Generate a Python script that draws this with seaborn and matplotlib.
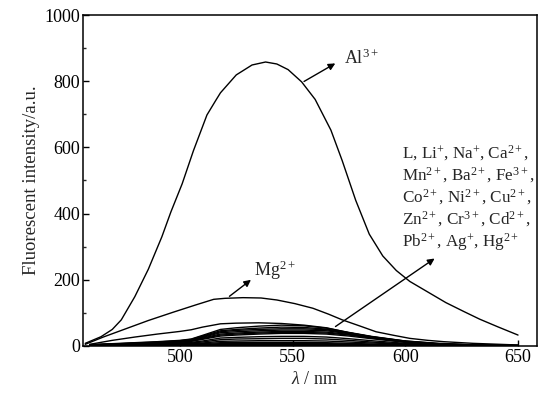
import numpy as np
import pandas as pd
import matplotlib
matplotlib.use('Agg')
import matplotlib.pyplot as plt
from matplotlib.ticker import MultipleLocator
import seaborn as sns

# wavelength grids (nm)
wl_al = [458, 465, 470, 474, 480, 486, 492, 496, 501, 506, 512, 516, 518, 525, 532,
         538, 543, 548, 554, 560, 567, 572, 578, 584, 590, 596, 602, 611, 618, 626,
         633, 641, 650]
al = [8, 28, 50, 79, 149, 232, 330, 405, 490, 590, 698, 743, 765, 819, 849,
      858, 852, 835, 798, 745, 652, 560, 440, 338, 272, 228, 195, 159, 131, 104,
      81, 58, 33]

wl_mg = [458, 466, 476, 486, 497, 507, 515, 520, 528, 536, 543, 551, 559, 566, 572,
         580, 587, 595, 602, 610, 617, 630, 650]
mg = [5, 27, 52, 77, 102, 124, 141, 144, 146, 145, 139, 128, 114, 96, 79,
      60, 43, 32, 23, 17, 13, 8, 3]

wl = [460, 470, 480, 490, 500, 505, 510, 518, 525, 535, 545, 555, 565, 575, 585, 600, 615, 630, 650]
others = {
    'L':    [5, 17, 27, 36, 44, 49, 57, 67, 69, 70, 68, 63, 55, 40, 28, 15, 8, 4, 2],
    'Li+':  [4, 7, 10, 13, 17, 21, 32, 50, 55, 60, 63, 61, 54, 41, 29, 15, 7, 3, 1],
    'Na+':  [4, 6, 9, 12, 16, 20, 30, 46, 50, 54, 57, 56, 51, 40, 28, 14, 6, 3, 1],
    'Ca2+': [3, 6, 8, 11, 15, 18, 28, 43, 47, 50, 52, 52, 49, 38, 27, 13, 6, 3, 1],
    'Mn2+': [3, 5, 8, 10, 14, 17, 26, 40, 43, 46, 48, 48, 46, 37, 26, 13, 6, 2, 1],
    'Ba2+': [3, 5, 7, 10, 13, 16, 24, 36, 39, 42, 44, 44, 42, 35, 25, 12, 5, 2, 1],
    'Fe3+': [3, 5, 7, 9, 12, 15, 22, 33, 36, 39, 41, 41, 39, 33, 24, 12, 5, 2, 1],
    'Co2+': [2, 4, 6, 8, 11, 14, 20, 30, 33, 36, 38, 38, 36, 30, 22, 11, 5, 2, 1],
    'Ni2+': [2, 4, 5, 7, 9, 11, 15, 24, 26, 28, 29, 29, 27, 22, 16, 8, 4, 2, 1],
    'Cu2+': [2, 3, 4, 6, 7, 9, 12, 19, 21, 22, 23, 23, 21, 17, 12, 6, 3, 1, 1],
    'Zn2+': [2, 3, 4, 5, 6, 7, 9, 14, 15, 16, 16, 16, 15, 12, 9, 5, 2, 1, 0],
    'Cr3+': [1, 2, 3, 4, 5, 6, 7, 10, 11, 11, 11, 11, 10, 8, 6, 3, 2, 1, 0],
    'Cd2+': [1, 2, 2, 3, 4, 4, 5, 7, 7, 8, 8, 8, 7, 6, 4, 2, 1, 1, 0],
    'Pb2+': [1, 1, 2, 2, 3, 3, 3, 5, 5, 5, 5, 5, 5, 4, 3, 2, 1, 0, 0],
    'Ag+':  [1, 1, 1, 1, 2, 2, 2, 3, 3, 3, 3, 3, 3, 2, 2, 1, 1, 0, 0],
    'Hg2+': [0, 1, 1, 1, 1, 1, 1, 2, 2, 2, 2, 2, 2, 1, 1, 1, 0, 0, 0],
}

# long table for seaborn
rows = []
for w, v in zip(wl_al, al):
    rows.append(('Al3+', w, v))
for w, v in zip(wl_mg, mg):
    rows.append(('Mg2+', w, v))
for ion, vals in others.items():
    for w, v in zip(wl, vals):
        rows.append((ion, w, v))
df = pd.DataFrame(rows, columns=['ion', 'wl', 'intensity'])

sns.set_style('ticks')
plt.rcParams['font.family'] = ['Liberation Serif', 'DejaVu Serif']
plt.rcParams['mathtext.fontset'] = 'custom'
plt.rcParams['mathtext.rm'] = 'Liberation Serif'
plt.rcParams['mathtext.it'] = 'Liberation Serif:italic'
plt.rcParams['xtick.direction'] = 'in'
plt.rcParams['ytick.direction'] = 'in'

fig = plt.figure(figsize=(5.55, 3.97), dpi=100)
ax = fig.add_axes([0.1495, 0.1285, 0.818, 0.8337])

sns.lineplot(data=df, x='wl', y='intensity', units='ion', estimator=None,
             color='black', linewidth=1.0, ax=ax, legend=False)

ax.set_xlim(457, 658.4)
ax.set_ylim(0, 1000)
ax.xaxis.set_major_locator(MultipleLocator(50))
ax.yaxis.set_major_locator(MultipleLocator(200))
ax.yaxis.set_minor_locator(MultipleLocator(100))
ax.tick_params(axis='both', which='major', length=4, width=1, labelsize=13, colors='black', pad=2)
ax.tick_params(axis='y', which='minor', length=2.5, width=1)
for s in ax.spines.values():
    s.set_linewidth(1.1)
    s.set_color('black')

ax.set_xlabel(r'$\it{\lambda}$ / nm', fontsize=13, labelpad=2)
ax.set_ylabel('Fluorescent intensity/a.u.', fontsize=13.5, labelpad=3)
ax.xaxis.set_label_coords(0.51, -0.075)

arrow = dict(arrowstyle='-|>', color='black', lw=1.0, mutation_scale=10)
ax.annotate('', xy=(570, 858), xytext=(554, 795), arrowprops=arrow)
ax.text(573, 868, r'Al$^{3+}$', fontsize=13, va='center', ha='left')

ax.annotate('', xy=(532.5, 205), xytext=(521, 145), arrowprops=arrow)
ax.text(533, 228, r'Mg$^{2+}$', fontsize=13, va='center', ha='left')

ax.annotate('', xy=(614, 269), xytext=(568, 54), arrowprops=arrow)
block = ('L, Li$^{+}$, Na$^{+}$, Ca$^{2+}$,\n'
         'Mn$^{2+}$, Ba$^{2+}$, Fe$^{3+}$,\n'
         'Co$^{2+}$, Ni$^{2+}$, Cu$^{2+}$,\n'
         'Zn$^{2+}$, Cr$^{3+}$, Cd$^{2+}$,\n'
         'Pb$^{2+}$, Ag$^{+}$, Hg$^{2+}$')
ax.text(598.5, 612, block, fontsize=12.3, va='top', ha='left', linespacing=1.15)

fig.savefig('out.png', dpi=100)
